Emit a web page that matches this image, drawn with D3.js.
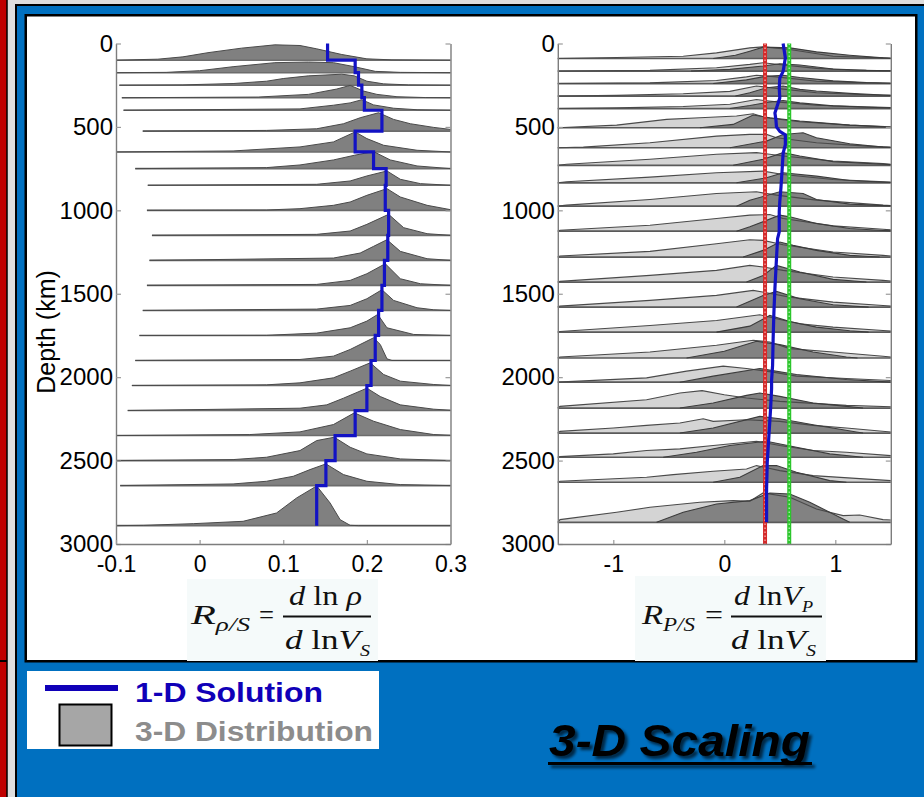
<!DOCTYPE html>
<html>
<head>
<meta charset="utf-8">
<script src="https://cdn.jsdelivr.net/npm/d3@7"></script>
<style>
  html, body { margin: 0; padding: 0; background: #dedede; }
  svg { display: block; }
</style>
</head>
<body>
<svg id="fig" width="924" height="797"></svg>
<script>
// ---------------- data ----------------
const depthTicks = [0, 500, 1000, 1500, 2000, 2500, 3000];
const rhoTicks = [-0.1, 0, 0.1, 0.2, 0.3];
const vpTicks = [-1, 0, 1];

// density / S-velocity scaling: layer bottoms (km), 1-D solution per layer
const rhoLayerBase = [100, 175, 250, 325, 400, 525, 650, 750, 850, 1000, 1150,
                      1300, 1450, 1600, 1750, 1900, 2050, 2200, 2350, 2500, 2650, 2890];
const rhoSolution = [0.153, 0.186, 0.190, 0.194, 0.197, 0.218, 0.186, 0.208, 0.223, 0.222, 0.226,
                     0.225, 0.221, 0.218, 0.214, 0.210, 0.205, 0.200, 0.186, 0.162, 0.151, 0.140];
// 3-D distribution per layer: [ratio, height above layer bottom in km]
const rhoDist = [
  [[-0.1,0],[-0.05,6],[-0.02,20],[0.01,45],[0.05,72],[0.09,92],[0.12,88],[0.14,68],[0.17,34],[0.2,8],[0.23,2],[0.3,0]],
  [[-0.1,0],[-0.04,2],[0.0,12],[0.04,36],[0.09,60],[0.13,64],[0.16,60],[0.185,36],[0.21,8],[0.24,2],[0.3,0]],
  [[-0.096,0],[-0.02,2],[0.04,10],[0.08,24],[0.1,40],[0.13,56],[0.17,66],[0.185,56],[0.2,24],[0.22,8],[0.25,2],[0.3,0]],
  [[-0.093,0],[0.07,4],[0.13,20],[0.164,52],[0.18,74],[0.196,40],[0.212,20],[0.236,6],[0.27,1],[0.3,0]],
  [[-0.091,0],[0.12,8],[0.16,30],[0.18,44],[0.194,63],[0.208,32],[0.232,12],[0.26,3],[0.3,0]],
  [[-0.068,0],[0.08,4],[0.14,14],[0.172,44],[0.192,80],[0.214,110],[0.232,70],[0.252,44],[0.28,22],[0.3,10]],
  [[-0.1,0],[0.04,6],[0.12,30],[0.16,60],[0.186,120],[0.2,80],[0.22,40],[0.26,10],[0.3,0]],
  [[-0.077,0],[0.08,6],[0.12,22],[0.16,52],[0.185,80],[0.208,102],[0.228,52],[0.26,16],[0.3,0]],
  [[-0.062,0],[0.14,6],[0.18,26],[0.2,56],[0.224,86],[0.24,36],[0.264,10],[0.3,0]],
  [[-0.063,0],[0.08,2],[0.12,10],[0.16,30],[0.18,50],[0.2,90],[0.224,130],[0.24,80],[0.272,30],[0.3,4]],
  [[-0.057,0],[0.14,6],[0.18,26],[0.2,66],[0.226,126],[0.244,46],[0.272,10],[0.3,0]],
  [[-0.06,0],[0.16,14],[0.192,44],[0.208,84],[0.224,124],[0.24,54],[0.272,10],[0.3,0]],
  [[-0.063,0],[0.14,6],[0.18,30],[0.2,70],[0.222,130],[0.24,40],[0.264,10],[0.3,0]],
  [[-0.068,0],[0.14,8],[0.18,30],[0.2,70],[0.218,124],[0.232,60],[0.26,16],[0.28,4],[0.3,0]],
  [[-0.072,0],[0.08,1],[0.14,14],[0.18,46],[0.2,86],[0.213,126],[0.224,46],[0.256,6],[0.3,0]],
  [[-0.077,0],[0.12,6],[0.16,26],[0.18,66],[0.208,136],[0.216,96],[0.224,10],[0.23,0],[0.3,0]],
  [[-0.081,0],[0.08,4],[0.12,16],[0.16,46],[0.18,86],[0.204,136],[0.22,66],[0.24,26],[0.28,6],[0.3,0]],
  [[-0.086,0],[0.12,14],[0.152,34],[0.172,74],[0.2,134],[0.216,84],[0.24,34],[0.28,8],[0.3,2]],
  [[-0.1,0],[0.06,6],[0.12,22],[0.16,66],[0.185,136],[0.208,86],[0.24,36],[0.28,6],[0.3,2]],
  [[-0.1,0],[0.04,6],[0.08,20],[0.12,60],[0.14,120],[0.161,140],[0.18,80],[0.2,40],[0.24,10],[0.3,0]],
  [[-0.095,0],[0.04,10],[0.08,26],[0.112,56],[0.132,96],[0.151,130],[0.172,66],[0.2,26],[0.24,6],[0.3,0]],
  [[-0.1,0],[-0.067,2],[-0.007,12],[0.052,26],[0.092,76],[0.116,166],[0.14,238],[0.156,136],[0.168,36],[0.18,2],[0.19,0],[0.3,0]]
];

// P / S-velocity scaling: layer bottoms (km)
const vpLayerBase = [90, 165, 240, 315, 390, 505, 625, 730, 835, 975, 1125,
                     1280, 1430, 1580, 1730, 1885, 2030, 2185, 2335, 2480, 2630, 2870];
// broad (light) distribution per layer: [ratio, height in km]
const vpDistLight = [
  [[-1.5,0],[-0.97,6],[-0.37,14],[-0.07,34],[0.23,64],[0.35,70],[0.59,54],[0.98,14],[1.43,4],[1.5,2]],
  [[-1.5,0],[-0.67,4],[-0.07,20],[0.23,40],[0.35,50],[0.53,36],[0.83,16],[1.13,6],[1.5,2]],
  [[-1.5,0],[-0.67,4],[-0.07,18],[0.2,40],[0.29,50],[0.47,40],[0.83,14],[1.28,4],[1.5,2]],
  [[-1.5,0],[-0.97,4],[-0.37,14],[0.05,28],[0.29,60],[0.47,46],[0.83,20],[1.28,8],[1.5,4]],
  [[-1.5,0],[-0.97,4],[-0.37,12],[0.05,26],[0.29,54],[0.47,40],[0.83,20],[1.28,10],[1.5,6]],
  [[-1.5,0],[-0.97,16],[-0.52,50],[-0.22,60],[0.11,70],[0.26,84],[0.38,60],[0.68,36],[1.13,16],[1.5,6]],
  [[-1.5,0],[-1.27,4],[-0.67,30],[-0.07,70],[0.23,80],[0.38,80],[0.47,60],[0.83,30],[1.28,10],[1.5,4]],
  [[-1.5,0],[-1.42,6],[-0.67,36],[-0.07,66],[0.29,76],[0.53,56],[0.98,26],[1.43,10],[1.5,6]],
  [[-1.5,0],[-1.42,6],[-0.67,34],[-0.07,60],[0.35,70],[0.53,50],[0.98,20],[1.5,4]],
  [[-1.5,0],[-1.42,6],[-0.67,40],[-0.07,76],[0.29,86],[0.47,66],[0.83,36],[1.43,6],[1.5,4]],
  [[-1.5,0],[-1.48,6],[-0.67,36],[-0.07,76],[0.23,96],[0.41,100],[0.53,76],[0.98,32],[1.43,12],[1.5,8]],
  [[-1.5,0],[-1.48,6],[-0.67,34],[-0.07,80],[0.23,104],[0.35,100],[0.53,74],[0.98,30],[1.43,10],[1.5,6]],
  [[-1.5,0],[-1.48,4],[-0.67,40],[-0.07,70],[0.23,100],[0.35,90],[0.53,70],[0.98,30],[1.43,10],[1.5,6]],
  [[-1.5,0],[-1.48,6],[-0.67,40],[-0.07,70],[0.26,100],[0.38,86],[0.59,60],[0.98,30],[1.43,10],[1.5,6]],
  [[-1.5,0],[-1.48,4],[-0.67,40],[-0.07,70],[0.32,104],[0.47,80],[0.68,50],[0.98,30],[1.43,10],[1.5,6]],
  [[-1.5,0],[-1.48,6],[-0.67,36],[-0.07,76],[0.26,106],[0.41,96],[0.59,56],[0.98,36],[1.43,10],[1.5,6]],
  [[-1.5,0],[-0.7,26],[-0.34,66],[-0.01,96],[0.2,82],[0.44,60],[0.65,36],[1.1,22],[1.5,10]],
  [[-1.5,0],[-1.48,10],[-0.7,50],[-0.4,90],[-0.2,104],[0.0,80],[0.2,60],[0.5,40],[1.1,16],[1.5,8]],
  [[-1.5,0],[-1.48,10],[-1.0,30],[-0.7,46],[-0.4,60],[-0.19,86],[-0.1,70],[0.2,80],[0.5,70],[0.8,46],[1.1,30],[1.5,6]],
  [[-1.5,0],[-1.48,4],[-1.0,20],[-0.7,40],[-0.4,50],[-0.1,70],[0.29,96],[0.5,70],[0.8,40],[1.1,30],[1.5,10]],
  [[-1.5,0],[-1.48,6],[-0.7,30],[-0.46,46],[-0.1,66],[0.2,80],[0.29,100],[0.5,70],[0.8,40],[1.5,10]],
  [[-1.5,0],[-1.48,16],[-0.97,60],[-0.67,90],[-0.22,120],[0.08,130],[0.23,126],[0.35,176],[0.59,150],[0.83,80],[1.07,40],[1.22,44],[1.43,16],[1.5,14]]
];
// narrow (dark) distribution per layer
const vpDistDark = [
  [[-0.1,0],[0.1,20],[0.23,44],[0.35,68],[0.59,64],[0.83,40],[1.13,20],[1.43,4],[1.5,2]],
  [[-0.3,0],[0.05,10],[0.35,30],[0.5,44],[0.68,36],[0.98,12],[1.28,4],[1.5,2]],
  [[-0.1,0],[0.2,22],[0.38,44],[0.53,50],[0.68,36],[0.98,16],[1.28,6],[1.5,2]],
  [[0.1,0],[0.23,20],[0.38,50],[0.53,60],[0.68,40],[0.83,30],[1.13,16],[1.43,6],[1.5,4]],
  [[0.05,0],[0.23,18],[0.38,36],[0.53,48],[0.68,34],[0.98,16],[1.28,8],[1.5,4]],
  [[-0.22,0],[0.08,20],[0.26,76],[0.41,60],[0.68,40],[1.13,16],[1.5,4]],
  [[0.05,0],[0.38,40],[0.53,80],[0.71,90],[0.83,60],[1.13,24],[1.43,4],[1.5,2]],
  [[0.08,0],[0.35,36],[0.53,76],[0.68,56],[0.98,22],[1.43,6],[1.5,4]],
  [[0.11,0],[0.38,30],[0.53,60],[0.83,40],[1.13,14],[1.5,2]],
  [[0.11,0],[0.23,36],[0.5,86],[0.71,76],[0.83,40],[1.13,12],[1.5,2]],
  [[0.11,0],[0.23,26],[0.5,96],[0.59,86],[0.83,46],[1.13,16],[1.43,4],[1.5,2]],
  [[0.17,0],[0.35,40],[0.5,90],[0.62,70],[0.83,40],[1.13,10],[1.4,0]],
  [[0.2,0],[0.35,40],[0.47,100],[0.68,60],[0.98,16],[1.28,0]],
  [[0.11,0],[0.35,70],[0.47,94],[0.68,50],[0.98,14],[1.3,0]],
  [[-0.07,0],[0.23,36],[0.41,100],[0.59,64],[0.83,30],[1.13,8],[1.3,0]],
  [[-0.34,0],[0.0,40],[0.29,100],[0.5,80],[0.8,36],[1.1,6],[1.2,0]],
  [[-0.4,0],[-0.1,36],[0.32,82],[0.65,46],[1.1,16],[1.5,0]],
  [[-0.4,0],[-0.1,30],[0.2,76],[0.32,90],[0.5,70],[0.8,30],[1.1,10],[1.25,0]],
  [[-0.4,0],[-0.1,30],[0.32,100],[0.5,86],[0.8,50],[1.19,6],[1.25,0]],
  [[-0.55,0],[-0.25,30],[0.05,70],[0.38,96],[0.65,60],[0.95,20],[1.25,0]],
  [[-0.1,0],[0.14,30],[0.35,100],[0.47,100],[0.65,60],[0.95,10],[1.1,0]],
  [[-0.61,0],[-0.37,60],[-0.07,110],[0.23,130],[0.41,176],[0.59,170],[0.77,120],[1.07,20],[1.13,0]]
];
// 1-D P/S solution profile
const vpSolutionDepth = [0, 87, 167, 207, 267, 327, 367, 417, 457, 500, 527, 547, 607, 657, 767, 867,
                         947, 1007, 1129, 1169, 1289, 1469, 1609, 1769, 1929, 2019, 2069, 2189, 2349, 2509, 2669, 2870];
const vpSolution = [0.53, 0.55, 0.53, 0.50, 0.495, 0.50, 0.48, 0.456, 0.465, 0.47, 0.50, 0.55, 0.55, 0.53, 0.52, 0.51,
                    0.50, 0.495, 0.495, 0.48, 0.47, 0.456, 0.447, 0.44, 0.435, 0.426, 0.426, 0.417, 0.402, 0.387, 0.381, 0.381];
// reference ratios (dotted verticals)
const vpReference = [0.367, 0.585];
const vpReferenceColors = ["#d42a2a", "#2cc52c"];
const vpReferenceDots = ["#f5a0a0", "#a6f0a6"];

// ---------------- layout ----------------
const svg = d3.select("#fig");
const FONT = "'Liberation Sans', Arial, Helvetica, sans-serif";
const SERIF = "'Liberation Serif', 'Times New Roman', Times, serif";
const BLUE = "#1212c4";

const defs = svg.append("defs");
const sh = defs.append("filter").attr("id", "shadow")
  .attr("x", "-10%").attr("y", "-20%").attr("width", "130%").attr("height", "160%");
sh.append("feDropShadow").attr("dx", 3).attr("dy", 3).attr("stdDeviation", 1.6)
  .attr("flood-color", "#000").attr("flood-opacity", 0.65);

// slide frame
svg.append("rect").attr("x", 0).attr("y", 0).attr("width", 924).attr("height", 797).attr("fill", "#dedede");
svg.append("rect").attr("x", -2).attr("y", -2).attr("width", 9).attr("height", 803)
  .attr("fill", "#c00000").attr("stroke", "#000").attr("stroke-width", 1.5);
svg.append("line").attr("x1", 0).attr("x2", 7).attr("y1", 661).attr("y2", 661)
  .attr("stroke", "#000").attr("stroke-width", 2);
svg.append("rect").attr("x", 16).attr("y", 5).attr("width", 912).attr("height", 796)
  .attr("fill", "#0070c0").attr("stroke", "#000").attr("stroke-width", 2);
svg.append("rect").attr("x", 25.75).attr("y", 15.25).attr("width", 890.5).attr("height", 646)
  .attr("fill", "#fff").attr("stroke", "#000").attr("stroke-width", 2.5);

// scales
const yD = d3.scaleLinear().domain([0, 3000]).range([43.5, 544]);
const xL = d3.scaleLinear().domain([-0.1, 0.3]).range([116, 450.5]);
const xR = d3.scaleLinear().domain([-1.5, 1.5]).range([557.8, 890.8]);

function axes(x, xTicks) {
  const g = svg.append("g");
  const [x0, x1] = x.range();
  g.append("g").attr("transform", `translate(${x0},0)`)
    .call(d3.axisLeft(yD).tickValues(depthTicks).tickSize(-5).tickSizeOuter(0).tickPadding(3).tickFormat(d => String(d)));
  g.append("g").attr("transform", `translate(${x1},0)`)
    .call(d3.axisRight(yD).tickValues(depthTicks).tickSize(-5).tickSizeOuter(0).tickFormat(""));
  const bx = g.append("g").attr("transform", `translate(0,${yD.range()[1]})`)
    .call(d3.axisBottom(x).tickValues(xTicks).tickSize(-4).tickSizeOuter(0).tickPadding(12).tickFormat(d => String(d)));
  g.selectAll(".domain").attr("stroke", "#7d7d7d").attr("stroke-width", 1.4);
  g.selectAll(".tick line").attr("stroke", "#9a9a9a").attr("stroke-width", 1.2);
  g.selectAll(".tick text").attr("font-family", FONT).attr("font-size", 24).attr("fill", "#000");
  bx.selectAll(".tick text").attr("font-size", 23);
  return g;
}

const ridgeArea = (x, base) => d3.area()
  .x(d => x(d[0])).y0(yD(base)).y1(d => yD(base - d[1]));
const ridgeLine = (x, base) => d3.line()
  .x(d => x(d[0])).y(d => yD(base - d[1]));

// ---------------- left panel: density scaling ----------------
const gL = svg.append("g");
rhoDist.forEach((dist, i) => {
  const base = rhoLayerBase[i];
  gL.append("path").attr("d", ridgeArea(xL, base)(dist))
    .attr("fill", "#808080").attr("stroke", "none");
  gL.append("line")
    .attr("x1", xL(dist[0][0])).attr("x2", xL(0.3))
    .attr("y1", yD(base)).attr("y2", yD(base))
    .attr("stroke", "#6c6c6c").attr("stroke-width", 1.6);
  gL.append("path").attr("d", ridgeLine(xL, base)(dist))
    .attr("fill", "none").attr("stroke", "#4a4a4a").attr("stroke-width", 1);
});
const rhoSteps = [];
rhoSolution.forEach((v, i) => {
  const top = i === 0 ? 0 : rhoLayerBase[i - 1];
  rhoSteps.push([v, top], [v, rhoLayerBase[i]]);
});
gL.append("path")
  .attr("d", d3.line().x(d => xL(d[0])).y(d => yD(d[1]))(rhoSteps))
  .attr("fill", "none").attr("stroke", BLUE).attr("stroke-width", 3.2)
  .attr("stroke-linejoin", "miter");
axes(xL, rhoTicks);

// ---------------- right panel: P-velocity scaling ----------------
const gR = svg.append("g");
vpDistLight.forEach((light, i) => {
  const base = vpLayerBase[i];
  const dark = vpDistDark[i];
  gR.append("path").attr("d", ridgeArea(xR, base)(light)).attr("fill", "#d4d4d4");
  gR.append("path").attr("d", ridgeArea(xR, base)(dark)).attr("fill", "#828282");
  gR.append("line")
    .attr("x1", xR(-1.5)).attr("x2", xR(1.5))
    .attr("y1", yD(base)).attr("y2", yD(base))
    .attr("stroke", "#5a5a5a").attr("stroke-width", 1.7);
  gR.append("path").attr("d", ridgeLine(xR, base)(light))
    .attr("fill", "none").attr("stroke", "#4a4a4a").attr("stroke-width", 1.1);
  gR.append("path").attr("d", ridgeLine(xR, base)(dark))
    .attr("fill", "none").attr("stroke", "#3c3c3c").attr("stroke-width", 1.1);
});
vpReference.forEach((v, i) => {
  gR.append("line").attr("x1", xR(v)).attr("x2", xR(v))
    .attr("y1", yD(0)).attr("y2", yD(3000))
    .attr("stroke", vpReferenceColors[i]).attr("stroke-width", 4);
  gR.append("line").attr("x1", xR(v)).attr("x2", xR(v))
    .attr("y1", yD(0)).attr("y2", yD(3000))
    .attr("stroke", vpReferenceDots[i]).attr("stroke-width", 1.4)
    .attr("stroke-dasharray", "1.5,2.5");
});
gR.append("path")
  .attr("d", d3.line().x((d, i) => xR(vpSolution[i])).y(d => yD(d))(vpSolutionDepth))
  .attr("fill", "none").attr("stroke", BLUE).attr("stroke-width", 3.2)
  .attr("stroke-linejoin", "round");
axes(xR, vpTicks);

// axis title
svg.append("text")
  .attr("transform", "translate(55,332) rotate(-90)")
  .attr("text-anchor", "middle")
  .attr("font-family", FONT).attr("font-size", 25).attr("fill", "#000")
  .text("Depth (km)");

// ---------------- scaling formulas ----------------
// f: box and the horizontal extents of each formula part
function formula(f, sub, numTail, numSub) {
  const g = svg.append("g").attr("font-family", SERIF).attr("fill", "#111");
  g.append("rect").attr("x", f.bx).attr("y", f.by).attr("width", f.bw).attr("height", f.bh).attr("fill", "#f5fafa");
  const lhs = g.append("text").attr("x", f.lhs[0]).attr("y", 624).attr("font-size", 27)
    .attr("textLength", f.lhs[1] - f.lhs[0]).attr("lengthAdjust", "spacingAndGlyphs");
  lhs.append("tspan").attr("font-style", "italic").text("R");
  lhs.append("tspan").attr("font-style", "italic").attr("font-size", 18).attr("dy", 7).text(sub);
  g.append("text").attr("x", f.eq[0]).attr("y", 624).attr("font-size", 27)
    .attr("textLength", f.eq[1] - f.eq[0]).attr("lengthAdjust", "spacingAndGlyphs").text("=");
  g.append("line").attr("x1", f.bar[0]).attr("x2", f.bar[1]).attr("y1", 616.5).attr("y2", 616.5)
    .attr("stroke", "#111").attr("stroke-width", 2);
  const num = g.append("text").attr("x", f.num[0]).attr("y", 605).attr("font-size", 28)
    .attr("textLength", f.num[1] - f.num[0]).attr("lengthAdjust", "spacingAndGlyphs");
  num.append("tspan").attr("font-style", "italic").text("d");
  num.append("tspan").text(" ln");
  num.append("tspan").attr("font-style", "italic").text(numTail);
  if (numSub) num.append("tspan").attr("font-style", "italic").attr("font-size", 16).attr("dy", 7).text(numSub);
  const den = g.append("text").attr("x", f.den[0]).attr("y", 649).attr("font-size", 28)
    .attr("textLength", f.den[1] - f.den[0]).attr("lengthAdjust", "spacingAndGlyphs");
  den.append("tspan").attr("font-style", "italic").text("d");
  den.append("tspan").text(" ln");
  den.append("tspan").attr("font-style", "italic").text("V");
  den.append("tspan").attr("font-style", "italic").attr("font-size", 16).attr("dy", 7).text("S");
}
formula({ bx: 187, by: 579, bw: 191, bh: 82, lhs: [191, 250], eq: [259, 274],
          bar: [283, 371], num: [289, 362], den: [285, 370] }, "\u03C1/S", " \u03C1", null);
formula({ bx: 635, by: 576, bw: 191, bh: 85, lhs: [642, 695], eq: [705, 723],
          bar: [731, 822], num: [734, 813], den: [731, 816] }, "P/S", "V", "P");

// ---------------- legend ----------------
const lg = svg.append("g");
lg.append("rect").attr("x", 27).attr("y", 671).attr("width", 352).attr("height", 78).attr("fill", "#fff");
lg.append("line").attr("x1", 45).attr("x2", 118).attr("y1", 688).attr("y2", 688)
  .attr("stroke", "#1000b8").attr("stroke-width", 6);
lg.append("rect").attr("x", 59.5).attr("y", 704.5).attr("width", 52).attr("height", 41)
  .attr("fill", "#a6a6a6").attr("stroke", "#000").attr("stroke-width", 2);
lg.append("text").attr("x", 135).attr("y", 702)
  .attr("font-family", FONT).attr("font-weight", "bold").attr("font-size", 28)
  .attr("textLength", 188).attr("lengthAdjust", "spacingAndGlyphs")
  .attr("fill", "#1000b8").text("1-D Solution");
lg.append("text").attr("x", 135).attr("y", 741)
  .attr("font-family", FONT).attr("font-weight", "bold").attr("font-size", 28)
  .attr("textLength", 238).attr("lengthAdjust", "spacingAndGlyphs")
  .attr("fill", "#8c8c8c").text("3-D Distribution");

// ---------------- title ----------------
const tg = svg.append("g").attr("filter", "url(#shadow)");
tg.append("text").attr("x", 549).attr("y", 756)
  .attr("font-family", FONT).attr("font-weight", "bold").attr("font-style", "italic")
  .attr("font-size", 44).attr("textLength", 261).attr("lengthAdjust", "spacingAndGlyphs")
  .attr("fill", "#000").text("3-D Scaling");
tg.append("line").attr("x1", 548).attr("x2", 812).attr("y1", 763.5).attr("y2", 763.5)
  .attr("stroke", "#000").attr("stroke-width", 3);
</script>
</body>
</html>
